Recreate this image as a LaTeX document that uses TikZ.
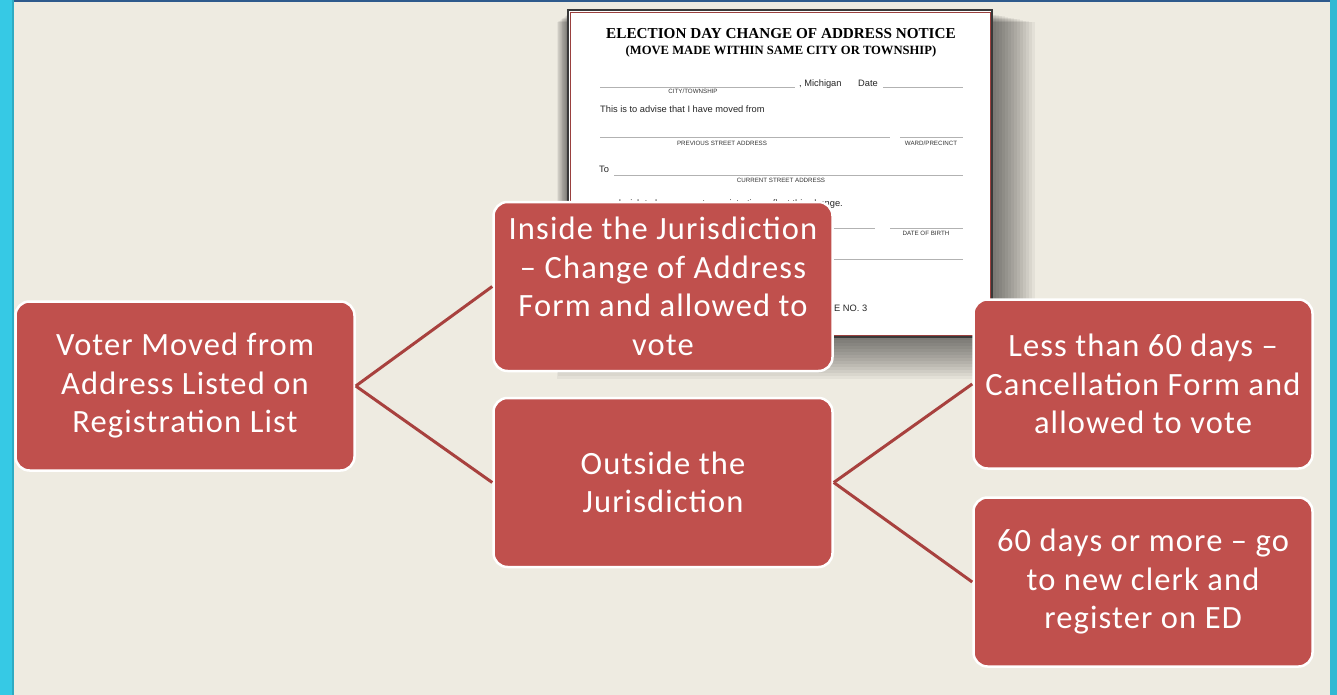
\documentclass[tikz,border=0pt]{standalone}
\usepackage{fontspec}
\setmainfont{Carlito}[LetterSpace=3.5]
\newfontfamily\formserif{Liberation Serif}
\newfontfamily\formsans{Liberation Sans}
\definecolor{boxred}{HTML}{C0504D}
\definecolor{linkred}{HTML}{A8413E}
\definecolor{paper}{HTML}{EEEBE1}
\definecolor{sidecyan}{HTML}{36C9E5}
\definecolor{topblue}{HTML}{2E5A8C}
\begin{document}
\begin{tikzpicture}[x=1pt, y=-1pt,
  box/.style={rectangle, rounded corners=14pt, fill=boxred, draw=white, line width=2.5pt, text=white, align=center, minimum width=339pt, minimum height=169pt, inner sep=0pt, font=\fontsize{32.5}{38.5}\selectfont},
  link/.style={draw=linkred, line width=3pt},
  formline/.style={draw=gray!60, line width=0.8pt},
  formtag/.style={font=\formsans\fontsize{6.2}{7}\selectfont, text=black!80, inner sep=0pt},
  formtext/.style={font=\formsans\fontsize{9.3}{11}\selectfont, text=black!85, inner sep=0pt, anchor=base west}]
\useasboundingbox (0,0) rectangle (1337,695);
\fill[paper] (0,0) rectangle (1337,695);
\fill[sidecyan] (0,0) rectangle (13,695);
\fill[sidecyan!85!black] (12,0) rectangle (14,695);
\fill[sidecyan!92!black] (1330,0) rectangle (1337,695);
\fill[topblue] (14,0) rectangle (1330,2.5);
% shadow under the form
\foreach \i in {1,...,14}
  \fill[black, opacity=0.042] (568-\i*0.8,14+\i*0.6) rectangle (993+\i*3,337+\i*3);
% the form
\draw[fill=white, draw=gray!45!black, line width=1.5pt] (568,10) rectangle (992,337);
\draw[draw=boxred!80!black, line width=0.8pt] (570,12) rectangle (990,335);
\node[font=\formserif\bfseries\fontsize{15.2}{17}\selectfont, inner sep=0pt] (f_title) at (781,34) {ELECTION DAY CHANGE OF ADDRESS NOTICE};
\node[font=\formserif\bfseries\fontsize{12.6}{14}\selectfont, inner sep=0pt] (f_sub) at (781,51) {(MOVE MADE WITHIN SAME CITY OR TOWNSHIP)};
\draw[formline] (600,87) -- (795,87);
\node[formtag] (f_city) at (693,91) {CITY/TOWNSHIP};
\node[formtext] (f_mi) at (799,87) {, Michigan};
\node[formtext] (f_date) at (858,87) {Date};
\draw[formline] (883,87) -- (963,87);
\node[formtext] (f_adv) at (600,113) {This is to advise that I have moved from};
\draw[formline] (600,137) -- (890,137);
\node[formtag] (f_prev) at (722,143) {PREVIOUS STREET ADDRESS};
\draw[formline] (900,137) -- (963,137);
\node[formtag] (f_ward) at (931,143) {WARD/PRECINCT};
\node[formtext] (f_to) at (599,173) {To};
\draw[formline] (614,175) -- (963,175);
\node[formtag] (f_curr) at (781,180) {CURRENT STREET ADDRESS};
\node[formtext, anchor=base east] (f_wish) at (843,206.5) {and wish to have my voter registration reflect this change.};
\draw[formline] (700,228) -- (875,228);
\draw[formline] (890,228) -- (963,228);
\node[formtag] (f_birth) at (926,233) {DATE OF BIRTH};
\draw[formline] (700,259) -- (963,259);
\node[formtext] (f_no) at (834,311) {E NO. 3};
% the tree
\node[box] (P_0_0) at (185,386) {Voter Moved from\\Address Listed on\\Registration List};
\node[box] (P_1_0) at (663,286.5) {Inside the Jurisdiction\\– Change of Address\\Form and allowed to\\vote};
\draw[link] (P_0_0.east) -- (P_1_0.west);
\node[box] (P_1_1) at (663,482.5) {Outside the\\Jurisdiction};
\draw[link] (P_0_0.east) -- (P_1_1.west);
\node[box] (P_2_0) at (1143,384) {Less than 60 days –\\Cancellation Form and\\allowed to vote};
\draw[link] (P_1_1.east) -- (P_2_0.west);
\node[box] (P_2_1) at (1143,582) {60 days or more – go\\to new clerk and\\register on ED};
\draw[link] (P_1_1.east) -- (P_2_1.west);
\end{tikzpicture}
\end{document}
